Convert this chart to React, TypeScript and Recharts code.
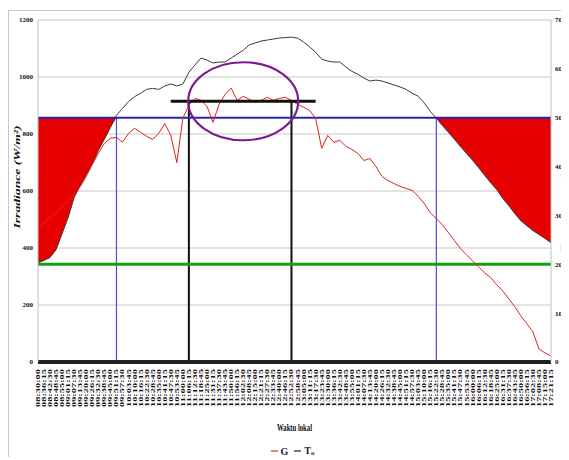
import {
  ComposedChart,
  Line,
  Area,
  XAxis,
  YAxis,
  CartesianGrid,
  ReferenceLine,
  ReferenceDot,
  Legend,
} from "recharts";

// time axis labels (hh:mm:ss)
const times = [
  "08:30:00", "08:36:15", "08:42:30", "08:48:45", "08:55:00", "09:01:15", "09:07:30", "09:13:45", "09:20:00", "09:26:15",
  "09:32:30", "09:38:45", "09:45:00", "09:51:15", "09:57:30", "10:03:45", "10:10:00", "10:16:15", "10:22:30", "10:28:45",
  "10:35:00", "10:41:15", "10:47:30", "10:53:45", "11:00:00", "11:06:15", "11:12:30", "11:18:45", "11:25:00", "11:31:15",
  "11:37:30", "11:43:45", "11:50:00", "11:56:15", "12:02:30", "12:08:45", "12:15:00", "12:21:15", "12:27:30", "12:33:45",
  "12:40:00", "12:46:15", "12:52:30", "12:58:45", "13:05:00", "13:11:15", "13:17:30", "13:23:45", "13:30:00", "13:36:15",
  "13:42:30", "13:48:45", "13:55:00", "14:01:15", "14:07:30", "14:13:45", "14:20:00", "14:26:15", "14:32:30", "14:38:45",
  "14:45:00", "14:51:15", "14:57:30", "15:03:45", "15:10:00", "15:16:15", "15:22:30", "15:28:45", "15:35:00", "15:41:15",
  "15:47:30", "15:53:45", "16:00:00", "16:06:15", "16:12:30", "16:18:45", "16:25:00", "16:31:15", "16:37:30", "16:43:45",
  "16:50:00", "16:56:15", "17:02:30", "17:08:45", "17:15:00", "17:21:15",
];

// G, irradiance (W/m2), left axis
const irradiance = [
  468, 489, 507, 524, 545, 566, 588, 616, 651, 693,
  732, 767, 785, 788, 771, 802, 820, 806, 792, 781,
  802, 837, 795, 700, 855, 901, 925, 918, 897, 841,
  904, 939, 961, 918, 932, 922, 911, 918, 929, 918,
  925, 929, 918, 904, 894, 883, 855, 750, 795, 771,
  778, 757, 746, 732, 707, 714, 686, 651, 637, 626,
  616, 609, 602, 581, 556, 524, 503, 482, 454, 426,
  398, 376, 355, 334, 313, 296, 271, 250, 222, 194,
  162, 134, 106, 46, 32, 21,
];

// T(o), temperature (C), right axis
const temperature = [
  20.3, 20.8, 21.4, 23.0, 26.3, 29.6, 33.7, 36.1, 38.4, 40.6,
  43.3, 45.6, 48.0, 50.5, 51.9, 53.3, 54.3, 55.0, 55.8, 56.0,
  55.8, 56.5, 56.9, 56.5, 56.9, 59.3, 60.8, 62.2, 61.8, 61.2,
  61.4, 61.4, 62.2, 63.0, 63.8, 64.9, 65.3, 65.7, 65.9, 66.1,
  66.3, 66.4, 66.5, 66.3, 65.5, 64.5, 63.4, 62.0, 61.6, 61.4,
  61.4, 60.4, 59.5, 58.9, 58.1, 57.5, 57.7, 57.5, 57.1, 56.7,
  56.3, 55.8, 55.0, 54.4, 53.0, 51.3, 49.9, 48.4, 47.0, 45.6,
  44.1, 42.7, 41.3, 39.8, 38.2, 36.7, 35.3, 33.5, 32.0, 30.4,
  28.9, 27.9, 26.9, 26.1, 25.3, 24.4,
];

const leftTicks = [0, 200, 400, 600, 800, 1000, 1200];
const rightTicks = [0, 10, 20, 30, 40, 50, 60, 70];

// annotation levels
const tempLimit = 50;
const tempLow = 20;
const irrPlateau = 915;
const blueFrom = times[13];
const blueTo = times[66];
const blackFrom = times[25];
const blackTo = times[42];
const plateauFrom = times[22];
const plateauTo = times[46];
const ellipseAt = times[34];

const data = times.map((t, i) => ({
  time: t,
  G: irradiance[i],
  T: temperature[i],
  band: [Math.min(temperature[i], tempLimit), tempLimit],
}));

const FONT = "'Liberation Serif', 'Times New Roman', serif";

const TimeTick = (props: any) => {
  const { x, y, payload } = props;
  return (
    <text
      x={x}
      y={y}
      transform={`rotate(-90 ${x} ${y})`}
      textAnchor="end"
      dominantBaseline="central"
      fontFamily={FONT}
      fontSize={7}
      fontWeight="bold"
      fill="#111"
      textLength={38}
      lengthAdjust="spacingAndGlyphs"
    >
      {payload.value}
    </text>
  );
};

const LeftTitle = (props: any) => {
  const vb = props.viewBox;
  const cx = vb.x + 9;
  const cy = vb.y + vb.height / 2 - 14;
  return (
    <text
      x={cx}
      y={cy}
      transform={`rotate(-90 ${cx} ${cy})`}
      textAnchor="middle"
      dominantBaseline="central"
      fontFamily={FONT}
      fontSize={9}
      fontWeight="bold"
      fontStyle="italic"
      fill="#111"
      textLength={103}
      lengthAdjust="spacingAndGlyphs"
    >
      Irradiance (W/m²)
    </text>
  );
};

const RightTitle = (props: any) => {
  const vb = props.viewBox;
  const cx = vb.x + 13;
  const cy = vb.y + vb.height / 2 + 19;
  return (
    <text
      x={cx}
      y={cy}
      transform={`rotate(-90 ${cx} ${cy})`}
      textAnchor="middle"
      dominantBaseline="central"
      fontFamily={FONT}
      fontSize={8}
      fontWeight="bold"
      fill="#111"
      textLength={84}
      lengthAdjust="spacingAndGlyphs"
    >
      Temperature (°C)
    </text>
  );
};

const BottomTitle = (props: any) => {
  const vb = props.viewBox;
  const cx = vb.x + vb.width / 2;
  const cy = 419;
  return (
    <text
      x={cx}
      y={cy}
      textAnchor="middle"
      dominantBaseline="central"
      fontFamily={FONT}
      fontSize={10}
      fontWeight="bold"
      fill="#111"
      textLength={35}
      lengthAdjust="spacingAndGlyphs"
    >
      Waktu lokal
    </text>
  );
};

const Ellipse = (props: any) => (
  <ellipse cx={props.cx} cy={props.cy} rx={55} ry={39} fill="none" stroke="#7b1d8e" strokeWidth={2.2} />
);

const LegendBox = () => (
  <div
    style={{
      display: "flex",
      justifyContent: "center",
      alignItems: "center",
      fontFamily: FONT,
      fontSize: 10,
      fontWeight: "bold",
      color: "#222",
      marginLeft: 8,
      gap: 3,
    }}
  >
    <span style={{ display: "inline-block", width: 7, height: 1.5, background: "#f08080" }} />
    <span>G</span>
    <span style={{ display: "inline-block", width: 7, height: 1.5, background: "#777", marginLeft: 3 }} />
    <span>
      T<sub style={{ fontSize: 7, verticalAlign: "-1px" }}>o</sub>
    </span>
  </div>
);

export default function App() {
  return (
    <div style={{ position: "relative", width: 561, height: 450 }}>
      <div
        style={{
          position: "absolute",
          top: 2,
          left: 0,
          width: 561,
          height: 447,
          borderTop: "1px solid #c8c8c8",
          borderLeft: "1px solid #c8c8c8",
          boxSizing: "border-box",
        }}
      />
      <div style={{ position: "absolute", top: 0, left: 0 }}>
        <ComposedChart width={561} height={450} data={data} margin={{ top: 12, right: 0, bottom: 0, left: 0 }}>
          <CartesianGrid yAxisId="left" vertical={false} stroke="#c8c8c8" />
          <XAxis
            dataKey="time"
            interval={0}
            height={96}
            tickSize={0}
            tickMargin={7}
            tick={<TimeTick />}
            axisLine={{ stroke: "#222", strokeWidth: 4 }}
            tickLine={false}
            label={{ content: BottomTitle, value: "Waktu lokal" }}
          />
          <YAxis
            yAxisId="left"
            domain={[0, 1200]}
            ticks={leftTicks}
            width={30}
            tickSize={0}
            tickMargin={5}
            tickLine={false}
            axisLine={{ stroke: "#c0c0c0" }}
            tick={{ fontFamily: FONT, fontSize: 7, fontWeight: "bold", fill: "#111" }}
            label={{ content: LeftTitle, value: "Irradiance (W/m²)" }}
          />
          <YAxis
            yAxisId="right"
            orientation="right"
            domain={[0, 70]}
            ticks={rightTicks}
            width={18}
            tickSize={0}
            tickMargin={4}
            tickLine={false}
            axisLine={{ stroke: "#c0c0c0" }}
            tick={{ fontFamily: FONT, fontSize: 7, fontWeight: "bold", fill: "#111" }}
            label={{ content: RightTitle, value: "Temperature (°C)" }}
          />
          <Area
            yAxisId="right"
            dataKey="band"
            type="linear"
            stroke="none"
            fill="#e60000"
            fillOpacity={1}
            isAnimationActive={false}
            legendType="none"
          />
          <ReferenceLine
            yAxisId="right"
            segment={[{ x: blueFrom, y: 0 }, { x: blueFrom, y: tempLimit }]}
            stroke="#4b4bd6"
            strokeWidth={1.2}
          />
          <ReferenceLine
            yAxisId="right"
            segment={[{ x: blueTo, y: 0 }, { x: blueTo, y: tempLimit }]}
            stroke="#4b4bd6"
            strokeWidth={1.2}
          />
          <ReferenceLine
            yAxisId="left"
            segment={[{ x: blackFrom, y: 0 }, { x: blackFrom, y: irrPlateau }]}
            stroke="#111"
            strokeWidth={2}
          />
          <ReferenceLine
            yAxisId="left"
            segment={[{ x: blackTo, y: 0 }, { x: blackTo, y: irrPlateau }]}
            stroke="#111"
            strokeWidth={2}
          />
          <ReferenceLine yAxisId="right" y={tempLow} stroke="#12a012" strokeWidth={3} />
          <ReferenceLine yAxisId="right" y={tempLimit} stroke="#2424b0" strokeWidth={2} />
          <Line
            yAxisId="right"
            dataKey="T"
            name="T"
            type="linear"
            stroke="#3a3a3a"
            strokeWidth={1}
            dot={false}
            isAnimationActive={false}
          />
          <Line
            yAxisId="left"
            dataKey="G"
            name="G"
            type="linear"
            stroke="#e3201c"
            strokeWidth={1}
            dot={false}
            isAnimationActive={false}
          />
          <ReferenceLine
            yAxisId="left"
            segment={[{ x: plateauFrom, y: irrPlateau }, { x: plateauTo, y: irrPlateau }]}
            stroke="#111"
            strokeWidth={3}
          />
          <ReferenceDot yAxisId="left" x={ellipseAt} y={irrPlateau} shape={<Ellipse />} />
          <Legend
            verticalAlign="middle"
            align="center"
            layout="horizontal"
            wrapperStyle={{ top: 437, left: 0, width: 561, height: 14 }}
            content={<LegendBox />}
          />
        </ComposedChart>
      </div>
    </div>
  );
}
